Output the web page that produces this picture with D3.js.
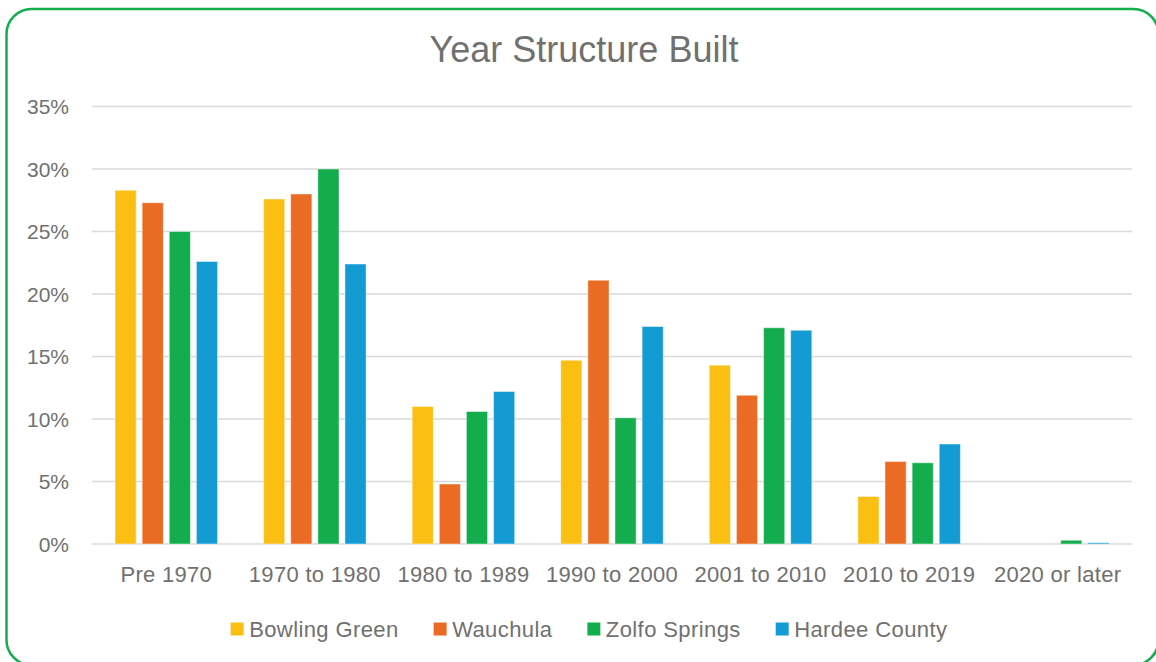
<!DOCTYPE html>
<html>
<head>
<meta charset="utf-8">
<script src="https://cdn.jsdelivr.net/npm/d3@7"></script>
<style>
  body { margin: 0; background: #fff; }
  text { font-family: "Liberation Sans", Arial, sans-serif; fill: #707070; }
</style>
</head>
<body>
<svg width="1156" height="662"></svg>
<script>
// data
const categories = ["Pre 1970", "1970 to 1980", "1980 to 1989", "1990 to 2000", "2001 to 2010", "2010 to 2019", "2020 or later"];
const seriesNames = ["Bowling Green", "Wauchula", "Zolfo Springs", "Hardee County"];
const bowlingGreen = [28.3, 27.6, 11.0, 14.7, 14.3, 3.8, 0];
const wauchula     = [27.3, 28.0, 4.8, 21.1, 11.9, 6.6, 0];
const zolfoSprings = [25.0, 30.0, 10.6, 10.1, 17.3, 6.5, 0.3];
const hardeeCounty = [22.6, 22.4, 12.2, 17.4, 17.1, 8.0, 0.1];
const yTicks = [0, 5, 10, 15, 20, 25, 30, 35];
const colors = ["#FBBF14", "#EA6B23", "#14AD4E", "#149BD3"];

const seriesValues = [bowlingGreen, wauchula, zolfoSprings, hardeeCounty];

const svg = d3.select("svg");

// rounded green frame
svg.append("rect")
    .attr("x", 6.5).attr("y", 9)
    .attr("width", 1152).attr("height", 656)
    .attr("rx", 25).attr("ry", 25)
    .attr("fill", "#fff")
    .attr("stroke", "#14AD4E")
    .attr("stroke-width", 2.5);

const plotLeft = 92, plotRight = 1132, plotTop = 106.5, plotBottom = 544;

const y = d3.scaleLinear().domain([0, 35]).range([plotBottom, plotTop]);

const x0 = d3.scaleBand()
    .domain(categories)
    .range([plotLeft, plotRight])
    .paddingInner(0.31)
    .paddingOuter(0.155);

const x1 = d3.scaleBand()
    .domain(seriesNames)
    .range([0, x0.bandwidth()])
    .paddingInner(0.22);

// title
svg.append("text")
    .attr("x", 584).attr("y", 62)
    .attr("text-anchor", "middle")
    .style("font-size", "36px")
    .text("Year Structure Built");

// gridlines
svg.append("g")
    .selectAll("line")
    .data(yTicks)
    .join("line")
    .attr("x1", plotLeft).attr("x2", plotRight)
    .attr("y1", d => y(d)).attr("y2", d => y(d))
    .attr("stroke", "#d9d9d9")
    .attr("stroke-width", 1.5);

// y axis labels
const yAxis = d3.axisLeft(y)
    .tickValues(yTicks)
    .tickFormat(d => d + "%")
    .tickSize(0)
    .tickPadding(23);
const yg = svg.append("g")
    .attr("transform", `translate(${plotLeft},0)`)
    .call(yAxis);
yg.select(".domain").remove();
yg.selectAll("text")
    .style("font-size", "21px")
    .style("font-family", "'Liberation Sans', Arial, sans-serif")
    .attr("fill", "#707070")
    .attr("dy", "0.35em");

// x axis labels
const xAxis = d3.axisBottom(x0).tickSize(0).tickPadding(0);
const xg = svg.append("g")
    .attr("transform", `translate(0,${plotBottom})`)
    .call(xAxis);
xg.select(".domain").remove();
xg.selectAll("text")
    .style("font-size", "22px")
    .style("font-family", "'Liberation Sans', Arial, sans-serif")
    .style("letter-spacing", "0.3px")
    .attr("fill", "#707070")
    .attr("dy", null)
    .attr("y", 38);

// bars
const groups = svg.append("g")
    .selectAll("g")
    .data(categories)
    .join("g")
    .attr("transform", d => `translate(${x0(d)},0)`);

groups.selectAll("rect")
    .data((c, i) => seriesNames.map((s, j) => ({ s, v: seriesValues[j][i], j })))
    .join("rect")
    .attr("x", d => x1(d.s))
    .attr("width", x1.bandwidth())
    .attr("y", d => y(d.v))
    .attr("height", d => y(0) - y(d.v))
    .attr("fill", d => colors[d.j])
    .attr("stroke", "#fff")
    .attr("stroke-opacity", 0.45)
    .attr("stroke-width", 1);

// legend
const legend = svg.append("g");
const items = legend.selectAll("g")
    .data(seriesNames)
    .join("g");
items.append("rect")
    .attr("width", 13).attr("height", 13)
    .attr("y", 622.5)
    .attr("fill", (d, i) => colors[i]);
items.append("text")
    .attr("x", 18.5)
    .attr("y", 637)
    .style("font-size", "22px")
    .style("letter-spacing", "0.4px")
    .text(d => d);

const gap = 35;
const widths = [];
items.each(function() {
    const w = 18.5 + d3.select(this).select("text").node().getComputedTextLength();
    widths.push(w);
});
const total = d3.sum(widths) + gap * (widths.length - 1);
let start = 589 - total / 2;
items.attr("transform", (d, i) => {
    const t = `translate(${start},0)`;
    start += widths[i] + gap;
    return t;
});
</script>
</body>
</html>
